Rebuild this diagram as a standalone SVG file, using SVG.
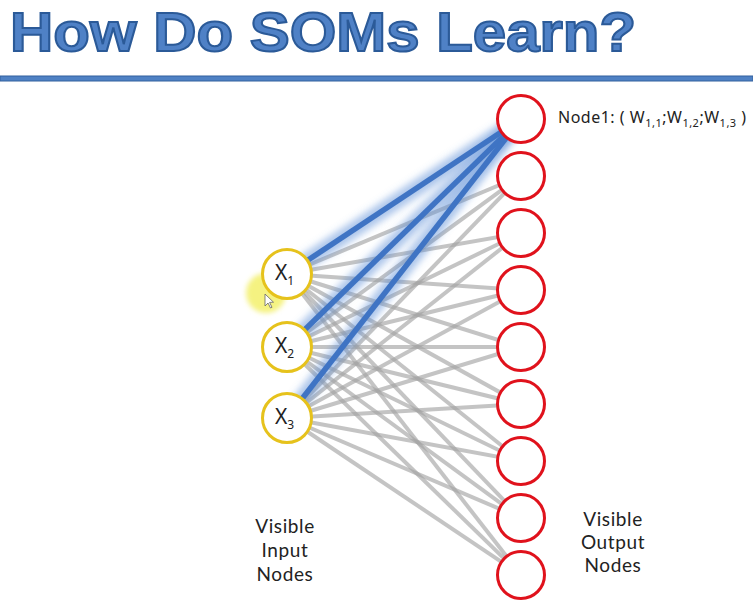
<svg xmlns="http://www.w3.org/2000/svg" width="753" height="611" viewBox="0 0 753 611">
  <defs>
    <filter id="glow" x="-20%" y="-20%" width="140%" height="140%">
      <feGaussianBlur stdDeviation="3.5"/>
    </filter>
    <filter id="soft" x="-50%" y="-50%" width="200%" height="200%">
      <feGaussianBlur stdDeviation="2.5"/>
    </filter>
  </defs>
  <style>
    .title { font-family: "Liberation Sans", Arial, sans-serif; font-weight: bold; font-size: 56px; fill: #4F81C6; stroke: #2B5A98; stroke-width: 2; }
    .lbl { font-family: Lato, "Noto Sans", sans-serif; font-size: 19px; fill: #222; text-anchor: middle; letter-spacing: 0.6px; }
    .xl { font-family: "Noto Sans", "Open Sans", sans-serif; font-size: 21px; fill: #222; }
    .sub { font-size: 12px; }
    .nl { font-family: "Noto Sans", "Open Sans", sans-serif; font-size: 16px; fill: #222; letter-spacing: 0.5px; }
    .nsub { font-size: 11px; }
    .gray { stroke: #a4a4a4; stroke-width: 4; stroke-opacity: 0.65; fill: none; }
    .bglow { stroke: #5b8fd8; stroke-width: 16; stroke-opacity: 0.5; fill: none; filter: url(#glow); }
    .blue { stroke: #3F74C4; stroke-width: 5.5; fill: none; }
    .in { fill: #fff; stroke: #E6C21C; stroke-width: 3; }
    .out { fill: #fff; stroke: #E0121C; stroke-width: 3; }
  </style>

  <rect width="753" height="611" fill="#fff"/>

  <!-- heading -->
  <text class="title" x="10" y="51" textLength="626" lengthAdjust="spacingAndGlyphs">How Do SOMs Learn?</text>
  <rect x="0" y="76" width="753" height="5" fill="#4F81C4" stroke="#33609E" stroke-width="1"/>

  <!-- connectors -->
  <g id="connectors">
    <g id="gray-links">
      <line class="gray" x1="287" y1="274" x2="521" y2="176"/>
      <line class="gray" x1="287" y1="274" x2="521" y2="233"/>
      <line class="gray" x1="287" y1="274" x2="521" y2="290"/>
      <line class="gray" x1="287" y1="274" x2="521" y2="347"/>
      <line class="gray" x1="287" y1="274" x2="521" y2="404"/>
      <line class="gray" x1="287" y1="274" x2="521" y2="461"/>
      <line class="gray" x1="287" y1="274" x2="521" y2="518"/>
      <line class="gray" x1="287" y1="274" x2="521" y2="575"/>
      <line class="gray" x1="287" y1="347" x2="521" y2="176"/>
      <line class="gray" x1="287" y1="347" x2="521" y2="233"/>
      <line class="gray" x1="287" y1="347" x2="521" y2="290"/>
      <line class="gray" x1="287" y1="347" x2="521" y2="347"/>
      <line class="gray" x1="287" y1="347" x2="521" y2="404"/>
      <line class="gray" x1="287" y1="347" x2="521" y2="461"/>
      <line class="gray" x1="287" y1="347" x2="521" y2="518"/>
      <line class="gray" x1="287" y1="347" x2="521" y2="575"/>
      <line class="gray" x1="287" y1="418" x2="521" y2="176"/>
      <line class="gray" x1="287" y1="418" x2="521" y2="233"/>
      <line class="gray" x1="287" y1="418" x2="521" y2="290"/>
      <line class="gray" x1="287" y1="418" x2="521" y2="347"/>
      <line class="gray" x1="287" y1="418" x2="521" y2="404"/>
      <line class="gray" x1="287" y1="418" x2="521" y2="461"/>
      <line class="gray" x1="287" y1="418" x2="521" y2="518"/>
      <line class="gray" x1="287" y1="418" x2="521" y2="575"/>
    </g>
    <g id="weight-links">
      <line class="bglow" x1="287" y1="274" x2="521" y2="119"/>
      <line class="bglow" x1="287" y1="347" x2="521" y2="119"/>
      <line class="bglow" x1="287" y1="418" x2="521" y2="119"/>
      <line class="blue" x1="287" y1="274" x2="521" y2="119"/>
      <line class="blue" x1="287" y1="347" x2="521" y2="119"/>
      <line class="blue" x1="287" y1="418" x2="521" y2="119"/>
    </g>
  </g>

  <!-- pointer highlight -->
  <circle cx="266" cy="293" r="20" fill="#F2EE55" fill-opacity="0.75" filter="url(#soft)"/>

  <!-- input nodes -->
  <g id="x1">
    <circle class="in" cx="287" cy="274" r="24.5"/>
    <text class="xl" x="275" y="280">X<tspan class="sub" dy="5">1</tspan></text>
  </g>
  <g id="x2">
    <circle class="in" cx="287" cy="347" r="24.5"/>
    <text class="xl" x="275" y="353">X<tspan class="sub" dy="5">2</tspan></text>
  </g>
  <g id="x3">
    <circle class="in" cx="287" cy="418" r="24.5"/>
    <text class="xl" x="275" y="424">X<tspan class="sub" dy="5">3</tspan></text>
  </g>

  <!-- cursor -->
  <path d="M265 294 L265 306 L268 303 L270.5 308 L272 307.3 L269.6 302.4 L273.5 302.2 Z" fill="#fff" stroke="#666" stroke-width="0.8"/>

  <!-- output nodes -->
  <g id="node1">
    <circle class="out" cx="521" cy="119" r="23.5"/>
    <text class="nl" x="558" y="123">Node1: ( W<tspan class="nsub" dy="4">1,1</tspan><tspan dy="-4">;W</tspan><tspan class="nsub" dy="4">1,2</tspan><tspan dy="-4">;W</tspan><tspan class="nsub" dy="4">1,3</tspan><tspan dy="-4"> )</tspan></text>
  </g>
  <g id="node2"><circle class="out" cx="521" cy="176" r="23.5"/></g>
  <g id="node3"><circle class="out" cx="521" cy="233" r="23.5"/></g>
  <g id="node4"><circle class="out" cx="521" cy="290" r="23.5"/></g>
  <g id="node5"><circle class="out" cx="521" cy="347" r="23.5"/></g>
  <g id="node6"><circle class="out" cx="521" cy="404" r="23.5"/></g>
  <g id="node7"><circle class="out" cx="521" cy="461" r="23.5"/></g>
  <g id="node8"><circle class="out" cx="521" cy="518" r="23.5"/></g>
  <g id="node9"><circle class="out" cx="521" cy="575" r="23.5"/></g>

  <!-- layer captions -->
  <g id="input-caption">
    <text class="lbl" x="285" y="533">Visible</text>
    <text class="lbl" x="285" y="557">Input</text>
    <text class="lbl" x="285" y="581">Nodes</text>
  </g>
  <g id="output-caption">
    <text class="lbl" x="613" y="526">Visible</text>
    <text class="lbl" x="613" y="549">Output</text>
    <text class="lbl" x="613" y="572">Nodes</text>
  </g>
</svg>
